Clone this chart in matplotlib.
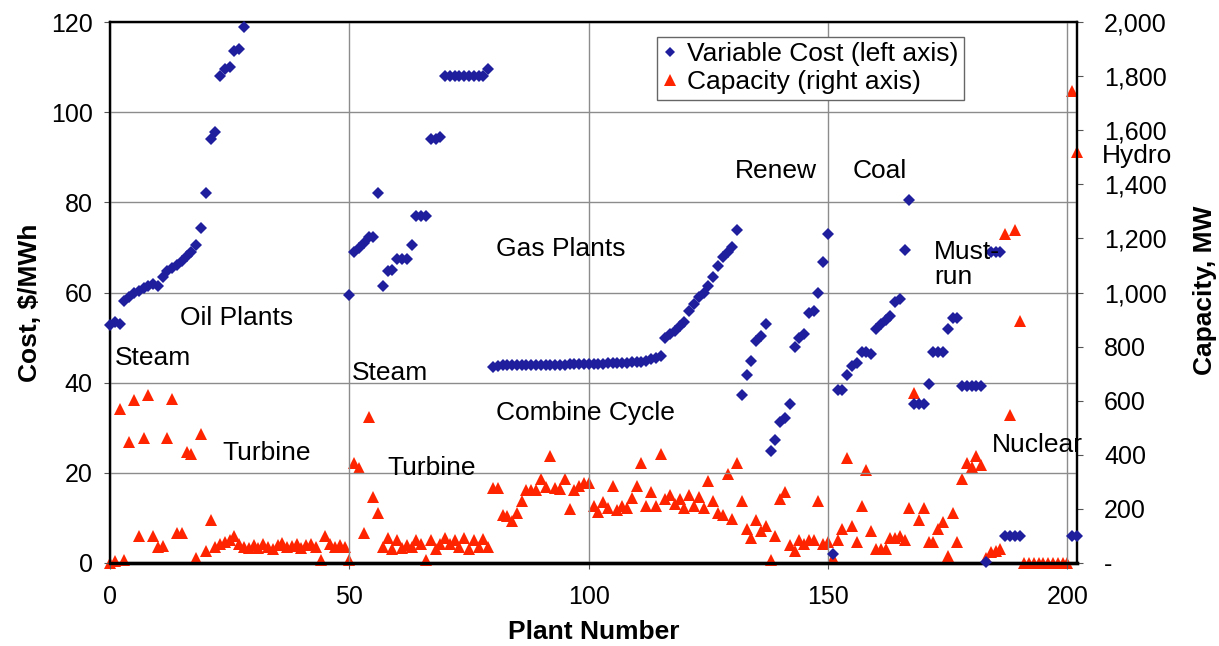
import numpy as np
import matplotlib
matplotlib.use("Agg")
import matplotlib.pyplot as plt
from matplotlib.ticker import FuncFormatter, MultipleLocator

plt.rcParams['font.family'] = ['Liberation Sans', 'DejaVu Sans']

nan = np.nan

# variable cost, $/MWh, by plant group (nan = above the axis range)
oil_cost = [52.7, 53.5, 53.0, 58.2, 59.1, 59.9, 60.3, 61.1, 61.5, 61.9, 61.5, 63.4,
            64.7, 65.4, 66.2, 67.0, 68.2, 69.0, 70.5, 74.2, 82.0, 94.0, 95.6, 108.0,
            109.5, 110.0, 113.5, 114.0, 119.0] + [nan] * 21
gas_steam_cost = [59.5, 69.0, 69.8, 71.0, 72.2, 72.2, 82.0, 61.5, 64.7, 65.0, 67.4, 67.4,
                  67.4, 70.6, 76.9, 76.9, 76.9, 94.0, 94.0, 94.4] + [108.1] * 9 + [109.6]
gas_cc_cost = ([43.5, 43.8] + [44.0] * 14 + [44.1] * 8 + [44.3] * 5 + [44.6] * 3
               + [44.9, 45.2, 45.5, 45.9]
               + [50.0, 50.8, 51.5, 52.5, 53.5, 55.9, 57.5, 59.0, 60.0, 61.5, 63.5, 65.8,
                  67.8, 69.0, 70.0, 73.8])
renew_cost = [37.3, 41.6, 44.8, 49.2, 50.4, 53.1, 24.9, 27.3, 31.3, 32.1, 35.3, 48.0,
              50.0, 50.8, 55.5, 55.8, 59.9, 66.7, 73.0]
coal_cost = [2.0, 38.4, 38.4, 41.6, 43.6, 44.4, 46.8, 46.8, 46.4, 52.0, 53.1, 53.9,
             54.7, 57.9, 58.5, 69.4, 80.5]
mustrun_cost = [35.3, 35.3, 35.3, 39.6, 46.8, 46.8, 46.8, 51.9, 54.3, 54.3, 39.2, 39.2,
                39.2, 39.2, 39.2, 0.3, 69.0, 69.0, 69.0]
nuclear_cost = [5.9, 5.9, 5.9, 5.9]
other_cost = [nan] * 10
hydro_cost = [6.0, 6.0]

# capacity, MW
oil_cap = [0, 6, 568, 12, 449, 601, 98, 462, 621, 98, 59, 63, 462, 608, 110, 110, 409,
           403, 20, 476, 45, 158, 59, 72, 78, 85, 100, 72, 59,
           57, 65, 55, 72, 60, 50, 66, 75, 58, 62, 70, 55, 68, 72, 60, 12, 98, 70, 58,
           66, 60]
gas_steam_cap = [12, 370, 350, 110, 540, 245, 185, 60, 92, 52, 85, 55, 67, 60, 85, 72,
                 12, 85, 52, 72, 92, 72, 85, 60, 92, 52, 85, 59, 90, 60]
gas_cc_cap = [277, 277, 178, 175, 155, 185, 230, 270, 270, 270, 311, 280, 396, 277, 275,
              311, 198, 270, 283, 297, 297, 211, 190, 224, 204, 284, 195, 211, 204, 240,
              284, 370, 211, 264, 211, 403, 237, 252, 218, 237, 204, 252, 211, 244, 204,
              304, 231, 185, 178, 330, 164, 370]
renew_cap = [231, 126, 92, 159, 118, 138, 12, 100, 237, 264, 67, 45, 85, 72, 85, 85,
             231, 72, 78]
coal_cap = [20, 85, 126, 389, 138, 78, 211, 344, 118, 52, 52, 52, 92, 92, 98, 85, 204]
mustrun_cap = [627, 159, 204, 78, 78, 126, 152, 26, 185, 78, 311, 370, 356, 396, 363,
               19, 41, 45, 52]
nuclear_cap = [1216, 548, 1230, 893]
other_cap = [0] * 10
hydro_cap = [1745, 1520]

cost = np.array(oil_cost + gas_steam_cost + gas_cc_cost + renew_cost + coal_cost
                + mustrun_cost + nuclear_cost + other_cost + hydro_cost)
capacity = np.array(oil_cap + gas_steam_cap + gas_cc_cap + renew_cap + coal_cap
                    + mustrun_cap + nuclear_cap + other_cap + hydro_cap)
plant = np.arange(len(cost))

blue = '#1f1f9e'
red = '#ff2400'

fig = plt.figure(figsize=(12.19, 6.46), dpi=100)
ax = fig.add_axes([110 / 1219, 1 - 563 / 646, 967 / 1219, 541 / 646])
ax2 = ax.twinx()

ax.set_xlim(0, 202)
ax.set_ylim(0, 120)
ax2.set_ylim(0, 2000)
ax.xaxis.set_major_locator(MultipleLocator(50))
ax.yaxis.set_major_locator(MultipleLocator(20))
ax2.yaxis.set_major_locator(MultipleLocator(200))
ax2.yaxis.set_major_formatter(FuncFormatter(lambda v, p: '-' if v == 0 else f'{v:,.0f}'))

ax.grid(True, color='#8c8c8c', linewidth=1.0)
ax.set_axisbelow(True)

ax2.plot(plant, capacity, linestyle='none', marker='^', markersize=8.5,
         color=red, markeredgewidth=0, clip_on=False, zorder=3)
ax.plot(plant, cost, linestyle='none', marker='D', markersize=5.8,
        color=blue, markeredgewidth=0, clip_on=False, zorder=4)
ax.set_zorder(ax2.get_zorder() + 1)
ax.patch.set_visible(False)

for a in (ax, ax2):
    for s in a.spines.values():
        s.set_color('black')
        s.set_linewidth(1.6)
    a.spines['bottom'].set_linewidth(2.4)
ax.tick_params(axis='y', labelsize=18, length=4.5, color='#555555', pad=8)
ax.tick_params(axis='x', labelsize=18, length=4.5, color='#555555', pad=11)
ax2.tick_params(labelsize=18, length=4.5, color='#555555', pad=15)

ax.set_xlabel('Plant Number', fontsize=19, fontweight='bold', va='center')
ax.xaxis.set_label_coords(0.5, (563 - 632) / 541)
ax.set_ylabel('Cost, \\$/MWh', fontsize=19, fontweight='bold', va='center')
ax.yaxis.set_label_coords((30 - 110) / 967, (563 - 303) / 541)
ax2.set_ylabel('Capacity, MW', fontsize=19, fontweight='bold', va='center')
ax2.yaxis.set_label_coords((1205 - 110) / 967, (563 - 290) / 541)

labels = [
    ('Oil Plants', 14.6, 54.4), ('Steam', 1.0, 45.5), ('Turbine', 23.4, 24.4),
    ('Steam', 50.5, 42.2), ('Turbine', 58.0, 21.1), ('Gas Plants', 80.6, 69.6),
    ('Combine Cycle', 80.6, 33.3), ('Renew', 130.5, 86.9), ('Coal', 155.1, 86.9),
    ('Must-\nrun', 172.2, 66.3), ('Nuclear', 184.3, 26.2), ('Hydro', 207.3, 90.2),
]
for text, x, y in labels:
    ax.text(x, y, text, fontsize=19, ha='left', va='center', linespacing=1.05, zorder=5)

handles = [
    plt.Line2D([], [], linestyle='none', marker='D', markersize=5.5, color=blue,
               markeredgewidth=0, label='Variable Cost (left axis)'),
    plt.Line2D([], [], linestyle='none', marker='^', markersize=9, color=red,
               markeredgewidth=0, label='Capacity (right axis)'),
]
leg = ax.legend(handles=handles, loc='upper left', bbox_to_anchor=(657 / 1219, 1 - 37 / 646),
                bbox_transform=fig.transFigure, fontsize=19, frameon=True, fancybox=False,
                framealpha=1, edgecolor='#666666', handlelength=0.6, handletextpad=0.35,
                borderpad=0.2, labelspacing=0.15, borderaxespad=0)
leg.get_frame().set_linewidth(1.0)
leg.set_zorder(10)

fig.savefig('out.png', dpi=100)
